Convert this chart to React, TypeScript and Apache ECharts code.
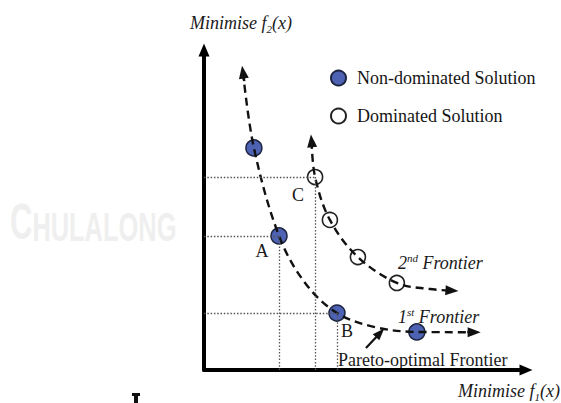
import React, { useEffect, useRef } from "react";
import * as echarts from "echarts";

// Values in a 0..100 abstract objective space (f1 on x, f2 on y)
const nonDominated: [number, number][] = [
  [15.5, 69.4],
  [23.3, 41.9],
  [41.3, 17.8],
  [66.1, 11.9],
];
const dominated: [number, number][] = [
  [34.5, 60.3],
  [39.1, 46.9],
  [47.8, 35.3],
  [59.9, 27.2],
];
const frontier1: [number, number][] = [
  [12.1, 93.1],
  [15.5, 69.4],
  [23.3, 41.9],
  [31.4, 27.2],
  [41.3, 17.8],
  [53.1, 13.4],
  [66.1, 11.9],
  [83.9, 11.8],
];
const frontier2: [number, number][] = [
  [33.4, 71.6],
  [34.5, 60.3],
  [39.1, 46.9],
  [47.8, 35.3],
  [59.9, 27.2],
  [70.2, 25.3],
  [77.0, 24.8],
];
const paretoArrow: [number, number][] = [
  [50.3, 6.9],
  [54.7, 11.6],
];
const seriesNames = ["Non-dominated Solution", "Dominated Solution"];

const SERIF = "'Liberation Serif', 'Times New Roman', serif";

function arrowLine(pts: [number, number][], fromStart: boolean) {
  const a = fromStart ? pts[1] : pts[pts.length - 2];
  const b = fromStart ? pts[0] : pts[pts.length - 1];
  // short segment along the last leg, ending where the arrow sits
  const t = 0.6;
  const s: [number, number] = [b[0] + (a[0] - b[0]) * (1 - t) * 0.3, b[1] + (a[1] - b[1]) * (1 - t) * 0.3];
  return [{ coord: s }, { coord: b }];
}

export default function App() {
  const ref = useRef<HTMLDivElement>(null);
  useEffect(() => {
    if (!ref.current) return;
    const chart = echarts.init(ref.current, undefined, { renderer: "svg" });
    const A = nonDominated[1];
    const B = nonDominated[2];
    const C = dominated[0];
    const dashStyle = { color: "#111", width: 2.4, type: [8, 5] as number[] };
    const option: any = {
      animation: false,
      backgroundColor: "#fff",
      grid: { left: 204, top: 50, right: 35, bottom: 33 },
      xAxis: {
        type: "value",
        min: 0,
        max: 100,
        axisLine: {
          show: true,
          onZero: false,
          lineStyle: { color: "#000", width: 4 },
          symbol: ["none", "triangle"],
          symbolSize: [11, 13],
        },
        axisTick: { show: false },
        axisLabel: { show: false },
        splitLine: { show: false },
      },
      yAxis: {
        type: "value",
        min: 0,
        max: 100,
        axisLine: {
          show: true,
          onZero: false,
          lineStyle: { color: "#000", width: 4 },
          symbol: ["none", "triangle"],
          symbolSize: [11, 13],
        },
        axisTick: { show: false },
        axisLabel: { show: false },
        splitLine: { show: false },
      },
      legend: {
        orient: "vertical",
        left: 325,
        top: 64,
        itemWidth: 15,
        itemHeight: 15,
        itemGap: 20,
        data: seriesNames,
        selectedMode: false,
        textStyle: { fontFamily: SERIF, fontSize: 18, color: "#151515", padding: [0, 0, 0, 6] },
      },
      series: [
        {
          name: "guides",
          type: "line",
          data: [],
          z: 1,
          silent: true,
          markLine: {
            silent: true,
            symbol: ["none", "none"],
            label: { show: false },
            lineStyle: { color: "#555", width: 1.3, type: [1.5, 1.8] },
            data: [
              [{ coord: [0, C[1]] }, { coord: C }],
              [{ coord: [C[0], 0] }, { coord: C }],
              [{ coord: [0, A[1]] }, { coord: A }],
              [{ coord: [A[0], 0] }, { coord: A }],
              [{ coord: [0, B[1]] }, { coord: B }],
              [{ coord: [B[0], 0] }, { coord: B }],
            ],
          },
        },
        {
          name: seriesNames[0],
          type: "scatter",
          data: nonDominated,
          symbol: "circle",
          symbolSize: 16,
          z: 2,
          itemStyle: { color: "#4d62b3", borderColor: "#1c2440", borderWidth: 1.5, opacity: 1 },
        },
        {
          name: seriesNames[1],
          type: "scatter",
          data: dominated,
          symbol: "circle",
          symbolSize: 15,
          z: 2,
          itemStyle: { color: "#fff", borderColor: "#222", borderWidth: 1.6, opacity: 1 },
        },
        {
          name: "1st Frontier",
          type: "line",
          data: frontier1,
          smooth: 0.35,
          showSymbol: false,
          symbol: "none",
          z: 3,
          silent: true,
          lineStyle: dashStyle,
          markLine: {
            silent: true,
            symbol: ["none", "triangle"],
            symbolSize: [10, 13],
            label: { show: false },
            lineStyle: { color: "#111", width: 2.4, type: "solid" },
            data: [arrowLine(frontier1, true), arrowLine(frontier1, false)],
          },
        },
        {
          name: "2nd Frontier",
          type: "line",
          data: frontier2,
          smooth: 0.35,
          showSymbol: false,
          symbol: "none",
          z: 3,
          silent: true,
          lineStyle: dashStyle,
          markLine: {
            silent: true,
            symbol: ["none", "triangle"],
            symbolSize: [10, 13],
            label: { show: false },
            lineStyle: { color: "#111", width: 2.4, type: "solid" },
            data: [arrowLine(frontier2, true), arrowLine(frontier2, false)],
          },
        },
        {
          name: "Pareto arrow",
          type: "line",
          data: [],
          z: 3,
          silent: true,
          markLine: {
            silent: true,
            symbol: ["none", "triangle"],
            symbolSize: [9, 12],
            label: { show: false },
            lineStyle: { color: "#111", width: 2.2, type: "solid" },
            data: [[{ coord: paretoArrow[0] }, { coord: paretoArrow[1] }]],
          },
        },
      ],
      graphic: [
        {
          type: "text",
          x: 10,
          y: 222,
          z: -3,
          scaleX: 0.62,
          silent: true,
          style: {
            text: "{c|C}{h|HULALONGKORN}",
            verticalAlign: "middle",
            rich: {
              c: { fontFamily: "'Liberation Sans', sans-serif", fontWeight: "bold", fontSize: 50, fill: "#efefef", color: "#efefef", verticalAlign: "bottom", lineHeight: 50 },
              h: { fontFamily: "'Liberation Sans', sans-serif", fontWeight: "bold", fontSize: 41, fill: "#efefef", color: "#efefef", verticalAlign: "bottom", lineHeight: 44 },
            },
          },
        },
        {
          type: "rect",
          z: -2,
          silent: true,
          shape: { x: 176, y: 0, width: 385, height: 403 },
          style: { fill: "#fff" },
        },
        {
          type: "rect",
          silent: true,
          shape: { x: 132, y: 393, width: 8, height: 3 },
          style: { fill: "#111" },
        },
        {
          type: "rect",
          silent: true,
          shape: { x: 134, y: 396, width: 4, height: 7 },
          style: { fill: "#111" },
        },
        {
          type: "text",
          x: 190,
          y: 23,
          silent: true,
          style: {
            text: "{n|Minimise f}{s|2}{n|(x)}",
            align: "left",
            verticalAlign: "middle",
            rich: {
              n: { fontFamily: SERIF, fontStyle: "italic", fontSize: 18, fill: "#1a1a1a", color: "#1a1a1a", lineHeight: 22, verticalAlign: "middle" },
              s: { fontFamily: SERIF, fontStyle: "italic", fontSize: 11, fill: "#1a1a1a", color: "#1a1a1a", lineHeight: 12, verticalAlign: "bottom" },
            },
          },
        },
        {
          type: "text",
          x: 560,
          y: 391,
          silent: true,
          style: {
            text: "{n|Minimise f}{s|1}{n|(x)}",
            align: "right",
            verticalAlign: "middle",
            rich: {
              n: { fontFamily: SERIF, fontStyle: "italic", fontSize: 18, fill: "#1a1a1a", color: "#1a1a1a", lineHeight: 22, verticalAlign: "middle" },
              s: { fontFamily: SERIF, fontStyle: "italic", fontSize: 11, fill: "#1a1a1a", color: "#1a1a1a", lineHeight: 12, verticalAlign: "bottom" },
            },
          },
        },
        {
          type: "text",
          x: 398,
          y: 263,
          silent: true,
          style: {
            text: "{n|2}{s|nd}{n| Frontier}",
            align: "left",
            verticalAlign: "middle",
            rich: {
              n: { fontFamily: SERIF, fontStyle: "italic", fontSize: 18, fill: "#1a1a1a", color: "#1a1a1a", lineHeight: 22, verticalAlign: "middle" },
              s: { fontFamily: SERIF, fontStyle: "italic", fontSize: 11, fill: "#1a1a1a", color: "#1a1a1a", lineHeight: 12, verticalAlign: "top" },
            },
          },
        },
        {
          type: "text",
          x: 398,
          y: 317,
          silent: true,
          style: {
            text: "{n|1}{s|st}{n| Frontier}",
            align: "left",
            verticalAlign: "middle",
            rich: {
              n: { fontFamily: SERIF, fontStyle: "italic", fontSize: 18, fill: "#1a1a1a", color: "#1a1a1a", lineHeight: 22, verticalAlign: "middle" },
              s: { fontFamily: SERIF, fontStyle: "italic", fontSize: 11, fill: "#1a1a1a", color: "#1a1a1a", lineHeight: 12, verticalAlign: "top" },
            },
          },
        },
        {
          type: "text",
          x: 338,
          y: 360,
          silent: true,
          style: { text: "Pareto-optimal Frontier", font: `18px ${SERIF}`, fill: "#1a1a1a", align: "left", verticalAlign: "middle" },
        },
        {
          type: "text",
          x: 262,
          y: 251,
          silent: true,
          style: { text: "A", font: `18px ${SERIF}`, fill: "#1a1a1a", align: "center", verticalAlign: "middle" },
        },
        {
          type: "text",
          x: 298,
          y: 195,
          silent: true,
          style: { text: "C", font: `18px ${SERIF}`, fill: "#1a1a1a", align: "center", verticalAlign: "middle" },
        },
        {
          type: "text",
          x: 347,
          y: 331,
          silent: true,
          style: { text: "B", font: `18px ${SERIF}`, fill: "#1a1a1a", align: "center", verticalAlign: "middle" },
        },
      ],
    };
    chart.setOption(option);
    return () => chart.dispose();
  }, []);
  return (
    <div
      ref={ref}
      style={{ position: "absolute", left: 0, top: 0, width: 561, height: 403, background: "#fff" }}
    />
  );
}
